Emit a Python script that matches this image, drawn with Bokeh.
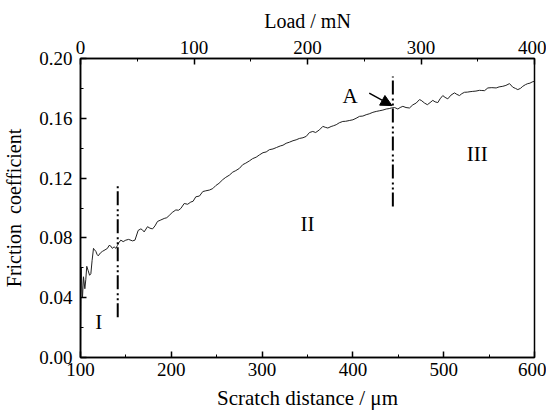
from bokeh.plotting import figure
from bokeh.models import (Range1d, LinearAxis, SingleIntervalTicker, NumeralTickFormatter,
                          Label, Arrow, NormalHead, ColumnDataSource)
from bokeh.embed import file_html
from bokeh.resources import INLINE

# Friction curve (scratch distance in um, friction coefficient)
distance = [100, 100.3, 100.8, 101.5, 102.2, 103.3, 104.8, 105.8, 106.9, 108.5, 110, 111.4,
            112.8, 114.3, 115.5, 116.9, 118.2, 119.5, 122, 124.2, 127, 129.7, 131.5, 133.4,
            135, 137, 139, 140.7, 142.5, 144.4, 147, 149.9, 153, 157.3, 160, 163.5, 166.4,
            168, 170.1, 173.8, 176.5, 179.3, 182, 184.8, 188.5, 192.2, 195, 197.7, 201,
            205, 208, 210.5, 214.2, 218, 221.5, 224, 227, 231, 234.7, 238, 242, 245.7,
            249, 252.5, 256.7, 260, 264, 267.7, 271, 275, 278.7, 282, 286, 289.5, 293.5,
            297, 301, 304.5, 308, 312, 316, 320, 323, 326.5, 330, 334, 337.5, 341, 345,
            348.6, 352.2, 355.8, 359, 363.2, 366.9, 369.5, 372.4, 376, 378.5, 381.6, 385,
            388.9, 392, 396, 400, 403.5, 407.3, 411, 414.6, 418, 422, 425.7, 429, 433,
            436.7, 440, 442.2, 446, 449.5, 452, 455, 458.5, 462.3, 466, 469.7, 473.3,
            475.2, 478.9, 482, 485, 488, 490.5, 493.5, 496, 499, 501.5, 504.5, 508, 511.9,
            514.5, 517.4, 520, 522.9, 526, 529, 532, 535.5, 539.4, 542, 545, 548.6, 553,
            557.8, 561, 565.1, 568.5, 572.5, 576.1, 579, 581.6, 584.5, 587.1, 590, 592.6,
            595, 597.4, 600]
friction = [0.000, 0.030, 0.060, 0.048, 0.040, 0.054, 0.046, 0.052, 0.061, 0.058, 0.055, 0.056,
            0.065, 0.073, 0.072, 0.071, 0.069, 0.068, 0.070, 0.071, 0.072, 0.073, 0.075, 0.0745,
            0.073, 0.074, 0.073, 0.075, 0.077, 0.0785, 0.0775, 0.0785, 0.079, 0.078, 0.0785, 0.085, 0.086,
            0.0855, 0.084, 0.0875, 0.0865, 0.086, 0.088, 0.091, 0.092, 0.093, 0.0935, 0.095, 0.097,
            0.0987, 0.0985, 0.0997, 0.103, 0.1025, 0.104, 0.1045, 0.1075, 0.108, 0.111, 0.1115, 0.112, 0.113,
            0.115, 0.1165, 0.119, 0.1205, 0.122, 0.124, 0.125, 0.1265, 0.129, 0.130, 0.1315, 0.133, 0.134,
            0.1355, 0.137, 0.1375, 0.139, 0.1395, 0.1405, 0.1415, 0.142, 0.1433, 0.144, 0.145, 0.1456, 0.1465, 0.147,
            0.1479, 0.1505, 0.1512, 0.1505, 0.1523, 0.1546, 0.154, 0.1535, 0.1545, 0.155, 0.1557, 0.157,
            0.1579, 0.158, 0.1585, 0.159, 0.160, 0.1613, 0.1615, 0.1624, 0.163, 0.164, 0.1646, 0.165, 0.1655,
            0.1662, 0.1665, 0.1669, 0.1672, 0.1662, 0.1672, 0.168, 0.1672, 0.1669, 0.169, 0.1702, 0.1725,
            0.172, 0.1702, 0.1691, 0.1705, 0.172, 0.171, 0.1705, 0.173, 0.1752, 0.174, 0.173, 0.1755, 0.177,
            0.176, 0.1752, 0.1765, 0.1774, 0.1775, 0.1778, 0.178, 0.1782, 0.1787, 0.1786, 0.1785, 0.1803, 0.1805,
            0.1803, 0.181, 0.1814, 0.182, 0.1832, 0.1808, 0.180, 0.1792, 0.180, 0.1814, 0.1825, 0.1832,
            0.1835, 0.1843, 0.1848]

# Boundary lines between regions I / II / III
boundary_x = [141, 444]
boundary_y0 = [0.027, 0.101]
boundary_y1 = [0.115, 0.188]

# Region labels
region_text = ["I", "II", "III"]
region_x = [120, 350, 537]
region_y = [0.024, 0.089, 0.136]

FONT = "Liberation Serif"

p = figure(frame_width=454, frame_height=299,
           x_range=Range1d(100, 600), y_range=Range1d(0, 0.2),
           output_backend="svg", toolbar_location=None,
           min_border_left=73, min_border_top=58, min_border_right=12, min_border_bottom=50)
p.extra_x_ranges = {"load": Range1d(0, 400)}
p.xgrid.visible = False
p.ygrid.visible = False
p.outline_line_color = "black"
p.outline_line_width = 1.5
p.background_fill_color = "white"
p.border_fill_color = "white"

bottom = p.below[0]
left = p.left[0]
bottom.ticker = SingleIntervalTicker(interval=100, num_minor_ticks=2)
left.ticker = SingleIntervalTicker(interval=0.04, num_minor_ticks=2)
left.formatter = NumeralTickFormatter(format="0.00")
bottom.axis_label = "Scratch distance / \u03bcm"
left.axis_label = "Friction\u2002coefficient"

top = LinearAxis(x_range_name="load", axis_label="Load / mN",
                 ticker=SingleIntervalTicker(interval=100, num_minor_ticks=2))
p.add_layout(top, "above")

for ax in [bottom, left, top]:
    ax.axis_line_color = "black"
    ax.axis_line_width = 1.5
    ax.major_tick_in = 6
    ax.major_tick_out = 0
    ax.minor_tick_in = 3
    ax.minor_tick_out = 0
    ax.major_tick_line_width = 1.5
    ax.major_label_text_font = FONT
    ax.major_label_text_font_size = "19px"
    ax.major_label_text_color = "black"
    ax.axis_label_text_font = FONT
    ax.axis_label_text_font_size = "20px"
    ax.axis_label_text_font_style = "normal"
    ax.axis_label_text_color = "black"
    ax.major_label_standoff = 5
    ax.axis_label_standoff = 6

bottom.axis_label_text_font_size = "21px"
bottom.axis_label_standoff = 7
left.major_label_standoff = 8
left.axis_label_standoff = 11

src = ColumnDataSource(dict(x=distance, y=friction))
p.line("x", "y", source=src, line_color="#222222", line_width=1)

p.segment(x0=boundary_x, y0=boundary_y0, x1=boundary_x, y1=boundary_y1,
          line_color="black", line_width=2, line_dash="14 3 2 3 2 4")

for t, x, y in zip(region_text, region_x, region_y):
    p.add_layout(Label(x=x, y=y, text=t, text_font=FONT, text_font_size="21px",
                       text_align="center", text_baseline="middle", text_color="black"))

p.add_layout(Label(x=397, y=0.175, text="A", text_font=FONT, text_font_size="21px",
                   text_align="center", text_baseline="middle", text_color="black"))
p.add_layout(Arrow(end=NormalHead(size=11, fill_color="black", line_color="black"),
                   x_start=418, y_start=0.1768, x_end=443, y_end=0.1685,
                   line_color="black", line_width=1.5))

open("out.html", "w").write(file_html(p, INLINE))
